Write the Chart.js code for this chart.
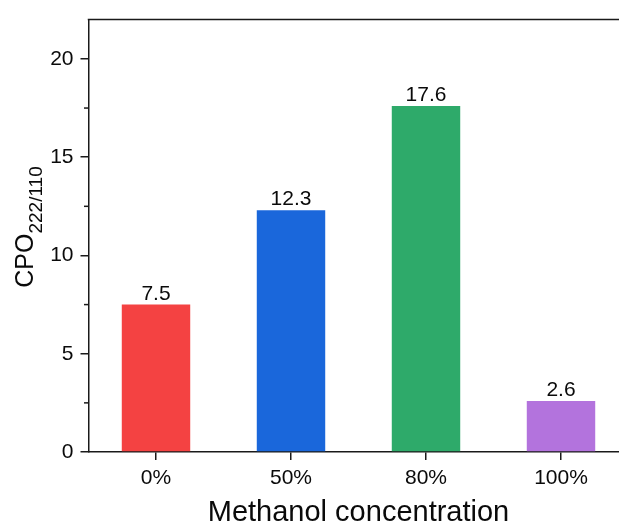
<!DOCTYPE html>
<html>
<head>
<meta charset="utf-8">
<script src="https://cdn.jsdelivr.net/npm/chart.js@4.4.1/dist/chart.umd.min.js"></script>
<style>
  html, body { margin: 0; padding: 0; background: #fff; overflow: hidden; }
  #wrap { width: 640px; height: 530px; }
</style>
</head>
<body>
<div id="wrap"><canvas id="c" width="640" height="530"></canvas></div>
<script>
const categories = ['0%', '50%', '80%', '100%'];
const cpoValues = [7.5, 12.3, 17.6, 2.6];
const barColors = ['#F44242', '#1A67DB', '#2EAA6A', '#B373DD'];
const yTickValues = [0, 5, 10, 15, 20];
const yMinorTicks = [2.5, 7.5, 12.5, 17.5];
const xTitle = 'Methanol concentration';
const yTitleMain = 'CPO';
const yTitleSub = '222/110';

const FONT = "'Liberation Sans', Arial, sans-serif";
const AXIS_COLOR = '#1a1a1a';
const TEXT_COLOR = '#0a0a0a';

const extrasPlugin = {
  id: 'extras',
  afterDraw(chart) {
    const ctx = chart.ctx;
    const area = chart.chartArea;
    const y = chart.scales.y;
    ctx.save();
    // top frame line
    ctx.strokeStyle = AXIS_COLOR;
    ctx.lineWidth = 1.5;
    ctx.beginPath();
    ctx.moveTo(area.left - 0.75, area.top);
    ctx.lineTo(area.right, area.top);
    ctx.stroke();
    // minor ticks
    yMinorTicks.forEach(v => {
      const py = y.getPixelForValue(v);
      ctx.beginPath();
      ctx.moveTo(area.left - 4.5, py);
      ctx.lineTo(area.left, py);
      ctx.stroke();
    });
    // value labels
    ctx.fillStyle = TEXT_COLOR;
    ctx.font = '21px ' + FONT;
    ctx.textAlign = 'center';
    ctx.textBaseline = 'alphabetic';
    const meta = chart.getDatasetMeta(0);
    meta.data.forEach((bar, i) => {
      ctx.fillText(cpoValues[i].toFixed(1), bar.x, bar.y - 5);
    });
    // y title with subscript
    ctx.font = '25px ' + FONT;
    const wMain = ctx.measureText(yTitleMain).width;
    ctx.font = '19px ' + FONT;
    const wSub = ctx.measureText(yTitleSub).width;
    const total = wMain + wSub;
    const cy = 227;
    ctx.save();
    ctx.translate(33, cy + total / 2);
    ctx.rotate(-Math.PI / 2);
    ctx.textAlign = 'left';
    ctx.textBaseline = 'alphabetic';
    ctx.font = '25px ' + FONT;
    ctx.fillText(yTitleMain, 0, 0);
    ctx.font = '19px ' + FONT;
    ctx.fillText(yTitleSub, wMain, 9);
    ctx.restore();
    ctx.restore();
  }
};

new Chart(document.getElementById('c'), {
  type: 'bar',
  data: {
    labels: categories,
    datasets: [{
      data: cpoValues,
      backgroundColor: barColors,
      borderWidth: 0,
      barPercentage: 0.507,
      categoryPercentage: 1.0
    }]
  },
  options: {
    responsive: false,
    animation: false,
    devicePixelRatio: 1,
    layout: { padding: { top: 17, right: 11.5, left: 0, bottom: 0 } },
    plugins: { legend: { display: false }, tooltip: { enabled: false } },
    scales: {
      x: {
        offset: true,
        grid: { display: true, drawOnChartArea: false, drawTicks: true, tickLength: 8, offset: false, color: AXIS_COLOR, lineWidth: 1.5 },
        border: { display: true, color: AXIS_COLOR, width: 1.5 },
        ticks: { color: TEXT_COLOR, font: { family: FONT, size: 21 }, padding: 6, maxRotation: 0 },
        title: { display: true, text: xTitle, color: TEXT_COLOR, font: { family: FONT, size: 29 }, padding: { top: 0, bottom: 0 } },
        afterFit(scale) { scale.height = 530 - 452; }
      },
      y: {
        min: 0,
        max: 22,
        grid: { display: true, drawOnChartArea: false, drawTicks: true, tickLength: 8, color: AXIS_COLOR, lineWidth: 1.5 },
        border: { display: true, color: AXIS_COLOR, width: 1.5 },
        ticks: {
          stepSize: 5,
          includeBounds: false,
          color: TEXT_COLOR,
          font: { family: FONT, size: 21 },
          padding: 7,
          callback: (v) => yTickValues.includes(v) ? String(v) : ''
        },
        afterFit(scale) { scale.width = 88.5; }
      }
    }
  },
  plugins: [extrasPlugin]
});
</script>
</body>
</html>
